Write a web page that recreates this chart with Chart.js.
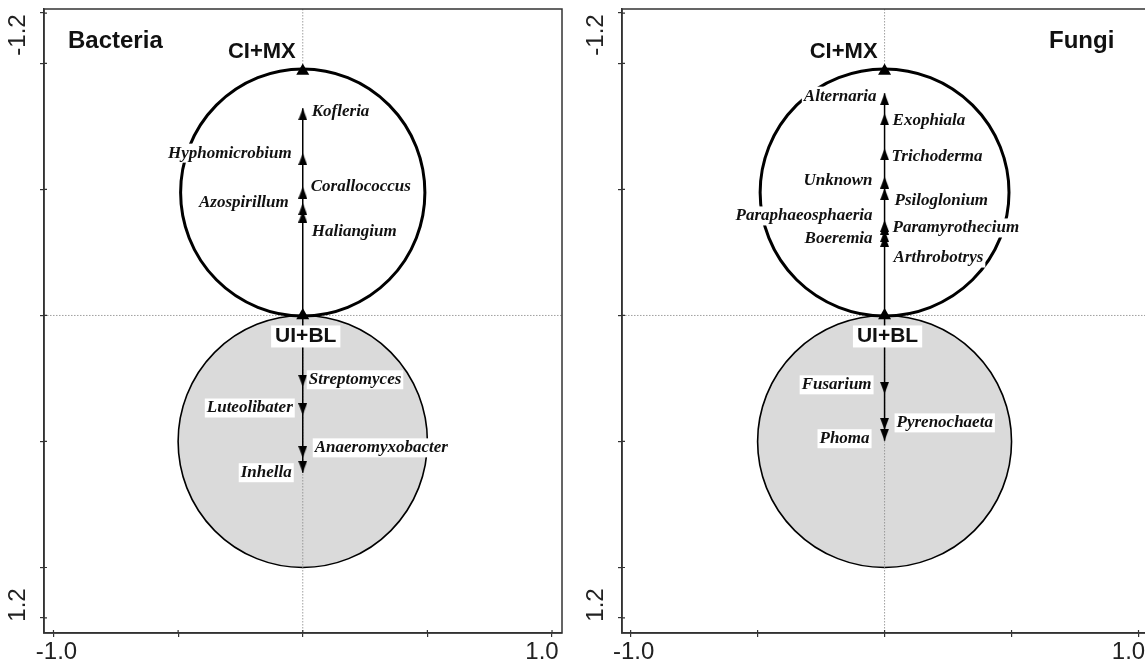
<!DOCTYPE html>
<html>
<head>
<meta charset="utf-8">
<script src="https://cdn.jsdelivr.net/npm/chart.js@4.4.1/dist/chart.umd.min.js"></script>
<style>
  html, body { margin: 0; padding: 0; background: #fff; }
  body { width: 1145px; height: 668px; position: relative; overflow: hidden; }
  canvas { position: absolute; top: 0; }
  #bacteriaChart { left: 0; }
  #fungiChart { left: 578px; }
</style>
</head>
<body>
<canvas id="bacteriaChart" width="575" height="668"></canvas>
<canvas id="fungiChart" width="600" height="668"></canvas>
<script>
// ---- data ----
const xTicks = [-1, -0.5, 0, 0.5, 1];
const yTicks = [-1.2, -1, -0.5, 0, 0.5, 1, 1.2];
const xTickLabels = ['-1.0', '1.0'];
const yTickLabels = ['-1.2', '1.2'];

const envLabels = ['CI+MX', 'UI+BL'];
const envY = [-0.97, 0];

// van Dobben circles: centre on the y axis + radius
const circleY = [-0.488, 0.5];
const circleR = [0.49, 0.5];

const bacteriaUp = ['Kofleria', 'Hyphomicrobium', 'Corallococcus', 'Azospirillum', 'Haliangium'];
const bacteriaUpY = [-0.822, -0.644, -0.511, -0.446, -0.416];
const bacteriaDown = ['Streptomyces', 'Luteolibater', 'Anaeromyxobacter', 'Inhella'];
const bacteriaDownY = [0.283, 0.395, 0.565, 0.624];

const fungiUp = ['Alternaria', 'Exophiala', 'Trichoderma', 'Unknown', 'Psiloglonium',
  'Paraphaeosphaeria', 'Paramyrothecium', 'Boeremia', 'Arthrobotrys'];
const fungiUpY = [-0.882, -0.802, -0.663, -0.551, -0.505, -0.379, -0.367, -0.339, -0.319];
const fungiDown = ['Fusarium', 'Pyrenochaeta', 'Phoma'];
const fungiDownY = [0.311, 0.454, 0.497];

// label nudges in px [dx, dy] from the arrow tip (dx < 0 -> label on the left)
const bacteriaLabelPos = {
  Kofleria: [9, 3], Hyphomicrobium: [-11, 0], Corallococcus: [8, 0], Azospirillum: [-14, 0],
  Haliangium: [9, 21], Streptomyces: [6, -7], Luteolibater: [-10, -7],
  Anaeromyxobacter: [12, -10], Inhella: [-11, 0]
};
const fungiLabelPos = {
  Alternaria: [-8, 3], Exophiala: [8, 7], Trichoderma: [7, 8], Unknown: [-12, 4],
  Psiloglonium: [10, 12], Paraphaeosphaeria: [-12, -4], Paramyrothecium: [8, 5],
  Boeremia: [-12, 9], Arthrobotrys: [9, 23], Fusarium: [-13, -9],
  Pyrenochaeta: [12, -7], Phoma: [-15, -2]
};

// arrow head image, tip sits at the image centre
const arrowHead = document.createElement('canvas');
arrowHead.width = 9; arrowHead.height = 24;
(function () {
  const c = arrowHead.getContext('2d');
  c.fillStyle = '#000';
  c.beginPath(); c.moveTo(4.5, 12); c.lineTo(9, 24); c.lineTo(0, 24); c.closePath(); c.fill();
})();

const LABEL_FONT = 'italic bold 17px "Liberation Serif", "Times New Roman", serif';
const SANS_BOLD = 'bold 24px "Liberation Sans", Arial, sans-serif';

function boxText(ctx, text, x, y, align, padX, h) {
  const w = ctx.measureText(text).width;
  let left = align === 'left' ? x : align === 'right' ? x - w : x - w / 2;
  ctx.fillStyle = '#fff';
  ctx.fillRect(left - padX, y - h / 2, w + padX * 2, h);
  ctx.fillStyle = '#111';
  ctx.textAlign = align;
  ctx.fillText(text, x, y);
}

const ordination = {
  id: 'ordination',
  beforeDatasetsDraw(chart, args, o) {
    const { ctx, chartArea: a, scales: { x, y } } = chart;
    const x0 = x.getPixelForValue(0);
    const drawCircle = (i, fill, lw) => {
      const cy = y.getPixelForValue(circleY[i]);
      const rx = x.getPixelForValue(circleR[i]) - x0;
      const ry = Math.abs(y.getPixelForValue(circleY[i] + circleR[i]) - cy);
      ctx.beginPath();
      ctx.ellipse(x0, cy, rx, ry, 0, 0, Math.PI * 2);
      ctx.fillStyle = fill; ctx.fill();
      ctx.lineWidth = lw; ctx.strokeStyle = '#000'; ctx.stroke();
    };
    ctx.save();
    drawCircle(1, '#dadada', 1.6);
    // dotted zero lines
    ctx.strokeStyle = '#888'; ctx.lineWidth = 0.8; ctx.setLineDash([1.5, 1.5]);
    const y0 = y.getPixelForValue(0);
    ctx.beginPath();
    ctx.moveTo(x0, a.top); ctx.lineTo(x0, a.bottom);
    ctx.moveTo(a.left, y0); ctx.lineTo(a.right, y0);
    ctx.stroke();
    ctx.setLineDash([]);
    drawCircle(0, '#fff', 3);
    ctx.restore();
  },
  afterDatasetsDraw(chart, args, o) {
    const { ctx, chartArea: a, scales: { x, y } } = chart;
    const x0 = x.getPixelForValue(0);
    ctx.save();
    ctx.textBaseline = 'middle';
    // genus labels
    ctx.font = LABEL_FONT;
    o.names.forEach((n, i) => {
      const [dx, dy] = o.pos[n];
      boxText(ctx, n, x0 + dx, y.getPixelForValue(o.values[i]) + dy, dx < 0 ? 'right' : 'left', 2, 19);
    });
    // environmental variables
    ctx.font = 'bold 22px "Liberation Sans", Arial, sans-serif';
    ctx.fillStyle = '#111'; ctx.textAlign = 'right';
    ctx.fillText(envLabels[0], x0 - 7, y.getPixelForValue(envY[0]) - 19);
    ctx.font = 'bold 21px "Liberation Sans", Arial, sans-serif';
    boxText(ctx, envLabels[1], x0 + 3, y.getPixelForValue(envY[1]) + 21, 'center', 4, 22);
    // panel title
    ctx.font = SANS_BOLD; ctx.fillStyle = '#111'; ctx.textAlign = 'left';
    ctx.fillText(o.title, a.left + o.titleDx, 41);
    // frame
    ctx.strokeStyle = '#333'; ctx.lineWidth = 1.5;
    ctx.strokeRect(a.left, a.top, a.right - a.left, a.bottom - a.top);
    // tick stubs inside the frame
    ctx.lineWidth = 1.2; ctx.beginPath();
    xTicks.forEach(v => { const px = x.getPixelForValue(v); ctx.moveTo(px, a.bottom); ctx.lineTo(px, a.bottom - 3); });
    yTicks.forEach(v => { const py = y.getPixelForValue(v); ctx.moveTo(a.left, py); ctx.lineTo(a.left + 3, py); });
    ctx.stroke();
    // tick labels
    ctx.font = '24px "Liberation Sans", Arial, sans-serif';
    ctx.fillStyle = '#222'; ctx.textAlign = 'center';
    ctx.fillText(xTickLabels[0], x.getPixelForValue(xTicks[0]) + 3, 652);
    ctx.fillText(xTickLabels[1], x.getPixelForValue(xTicks[xTicks.length - 1]) - 10, 652);
    [[yTickLabels[0], 35], [yTickLabels[1], 605]].forEach(([t, py]) => {
      ctx.save();
      ctx.translate(a.left - 26, py);
      ctx.rotate(-Math.PI / 2);
      ctx.fillText(t, 0, 0);
      ctx.restore();
    });
    ctx.restore();
  }
};

function makePanel(id, title, titleDx, up, upY, down, downY, pos, xMin, xMax, pad) {
  const pts = v => v.map(y => ({ x: 0, y }));
  new Chart(document.getElementById(id), {
    type: 'scatter',
    data: {
      datasets: [
        { data: pts([0, ...upY]), showLine: true, borderColor: '#000', borderWidth: 1.5, pointRadius: 0 },
        { data: pts([0, ...downY]), showLine: true, borderColor: '#000', borderWidth: 1.5, pointRadius: 0 },
        { data: pts(upY), pointStyle: arrowHead, pointRadius: 5, rotation: 0 },
        { data: pts(downY), pointStyle: arrowHead, pointRadius: 5, rotation: 180 },
        { data: pts(envY), pointStyle: 'triangle', pointRadius: 7.5, backgroundColor: '#000', borderWidth: 0 }
      ]
    },
    options: {
      responsive: false,
      animation: false,
      events: [],
      layout: { padding: pad },
      plugins: {
        legend: { display: false },
        tooltip: { enabled: false },
        ordination: { title, titleDx, names: [...up, ...down], values: [...upY, ...downY], pos }
      },
      scales: {
        x: {
          type: 'linear', min: xMin, max: xMax,
          afterBuildTicks: s => { s.ticks = xTicks.map(value => ({ value })); },
          ticks: { display: false },
          grid: { drawOnChartArea: false, drawTicks: true, tickLength: 4, color: '#333', lineWidth: 1.2 },
          border: { display: true, color: '#333', width: 1.5 }
        },
        y: {
          type: 'linear', min: -1.216, max: 1.26, reverse: true,
          afterBuildTicks: s => { s.ticks = yTicks.map(value => ({ value })); },
          ticks: { display: false },
          grid: { drawOnChartArea: false, drawTicks: true, tickLength: 4, color: '#333', lineWidth: 1.2 },
          border: { display: true, color: '#333', width: 1.5 }
        }
      }
    },
    plugins: [ordination]
  });
}

makePanel('bacteriaChart', 'Bacteria', 24, bacteriaUp, bacteriaUpY, bacteriaDown, bacteriaDownY,
  bacteriaLabelPos, -1.038, 1.040, { left: 40, right: 13, top: 9, bottom: 31 });
makePanel('fungiChart', 'Fungi', 427, fungiUp, fungiUpY, fungiDown, fungiDownY,
  fungiLabelPos, -1.034, 1.035, { left: 40, right: 30.6, top: 9, bottom: 31 });
</script>
</body>
</html>
